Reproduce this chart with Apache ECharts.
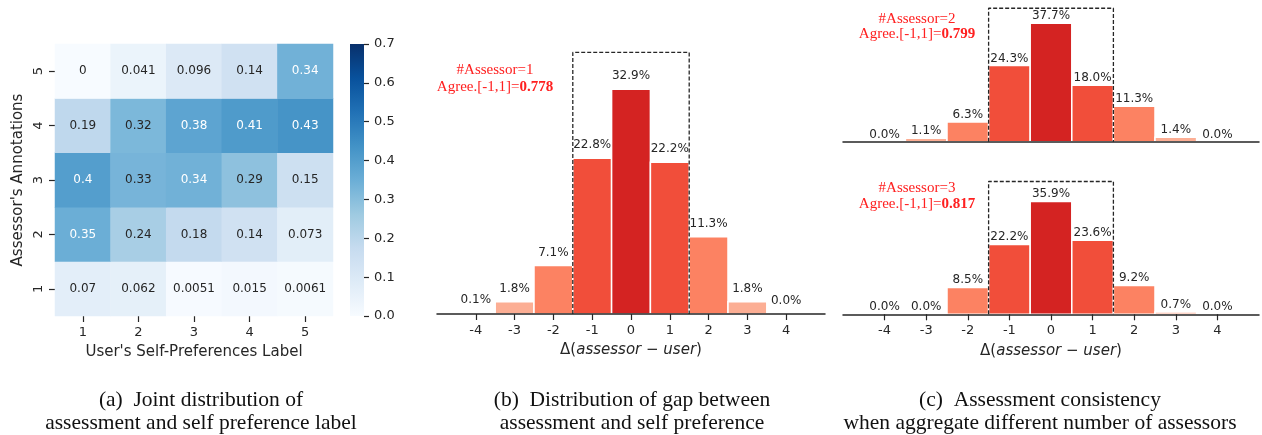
<!DOCTYPE html>
<html>
<head>
<meta charset="utf-8">
<script src="https://cdn.jsdelivr.net/npm/echarts@6/dist/echarts.min.js"></script>
<style>
  html, body { margin: 0; padding: 0; background: #fff; }
  #chart { width: 1262px; height: 435px; }
</style>
</head>
<body>
<div id="chart"></div>
<script>
// (a) joint distribution: one row per assessor annotation (1..5), one column per user label (1..5)
const userLabels = ['1', '2', '3', '4', '5'];
const assessorLabels = ['1', '2', '3', '4', '5'];
const jointDist = [
  [0.07, 0.062, 0.0051, 0.015, 0.0061], // assessor = 1
  [0.35, 0.24, 0.18, 0.14, 0.073],      // assessor = 2
  [0.4, 0.33, 0.34, 0.29, 0.15],        // assessor = 3
  [0.19, 0.32, 0.38, 0.41, 0.43],       // assessor = 4
  [0, 0.041, 0.096, 0.14, 0.34]         // assessor = 5
];
const colorbarMax = 0.7;
const colorbarStep = 0.1;

// (b), (c) share of gaps (assessor - user), in percent
const gapValues = [-4, -3, -2, -1, 0, 1, 2, 3, 4];
const gapOneAssessor = [0.1, 1.8, 7.1, 22.8, 32.9, 22.2, 11.3, 1.8, 0.0];
const gapTwoAssessors = [0.0, 1.1, 6.3, 24.3, 37.7, 18.0, 11.3, 1.4, 0.0];
const gapThreeAssessors = [0.0, 0.0, 8.5, 22.2, 35.9, 23.6, 9.2, 0.7, 0.0];
const assessorCounts = [1, 2, 3];
const agreementScores = ['0.778', '0.799', '0.817'];
const agreeWindow = [-1.5, 1.5];
const windowTops = [38.3, 42.5, 42.3];

// styling
const INK = '#262626';
const FONT = '"DejaVu Sans", sans-serif';
const SERIF = '"Liberation Serif", "Times New Roman", serif';
const BLUES = ['#f7fbff', '#deebf7', '#c6dbef', '#9ecae1', '#6baed6', '#4292c6', '#2171b5', '#08519c', '#08306b'];
const REDS_BY_DISTANCE = ['#d42322', '#f14e3a', '#fc8262', '#fcae94', '#fdd3c1'];

function twoSig(v) {
  return v === 0 ? '0' : String(Number(v.toPrecision(2)));
}

const heatData = [];
jointDist.forEach((row, r) => {
  row.forEach((v, c) => {
    heatData.push({
      value: [c, r, v],
      label: { color: v > 0.335 ? '#ffffff' : INK }
    });
  });
});

function histRender(labelGap) {
  return function (params, api) {
    const x = api.value(0);
    const v = api.value(1);
    const lo = api.coord([x - 0.5, 0]);
    const hi = api.coord([x + 0.5, v]);
    const cx = (lo[0] + hi[0]) / 2;
    return {
      type: 'group',
      children: [
        {
          type: 'rect',
          shape: { x: lo[0], y: hi[1], width: hi[0] - lo[0], height: lo[1] - hi[1] },
          style: { fill: REDS_BY_DISTANCE[Math.min(Math.abs(x), 4)], stroke: '#ffffff', lineWidth: 1.5 }
        },
        {
          type: 'text',
          style: {
            x: cx, y: hi[1] - labelGap,
            text: v.toFixed(1) + '%',
            align: 'center', verticalAlign: 'bottom',
            fill: INK, font: '12px ' + FONT
          }
        }
      ]
    };
  };
}

function histSeries(idx, values, labelGap) {
  return {
    type: 'custom',
    xAxisIndex: idx, yAxisIndex: idx,
    renderItem: histRender(labelGap),
    encode: { x: 0, y: 1 },
    data: gapValues.map((g, i) => [g, values[i]]),
    silent: true,
    z: 2
  };
}

function windowSeries(idx, top) {
  return {
    type: 'line',
    xAxisIndex: idx, yAxisIndex: idx,
    data: [[agreeWindow[0], 0], [agreeWindow[0], top], [agreeWindow[1], top], [agreeWindow[1], 0]],
    symbol: 'none',
    lineStyle: { color: INK, width: 1.3, type: [4, 2] },
    silent: true,
    animation: false,
    z: 4
  };
}

function gapXAxis(idx, withLabels) {
  return {
    gridIndex: idx, type: 'value', min: -5, max: 5, interval: 1,
    z: 5,
    splitLine: { show: false },
    axisLine: { show: true, onZero: false, lineStyle: { color: INK, width: 1.5 } },
    axisTick: withLabels
      ? { show: true, customValues: gapValues, length: 6, lineStyle: { color: INK, width: 1.2 } }
      : { show: false },
    axisLabel: withLabels
      ? { show: true, customValues: gapValues, formatter: v => String(v), color: INK, fontSize: 13, fontFamily: FONT, margin: 10 }
      : { show: false },
    name: withLabels ? 'Δ({i|assessor} − {i|user})' : '',
    nameLocation: 'middle',
    nameGap: 29,
    nameTextStyle: {
      color: INK, fontSize: 15, fontFamily: FONT,
      rich: { i: { fontStyle: 'italic', color: INK, fontSize: 15, fontFamily: FONT } }
    }
  };
}

function gapYAxis(idx, max) {
  return { gridIndex: idx, type: 'value', min: 0, max: max, show: false };
}

function assessorNote(cx, y1, y2, n, score) {
  return [
    {
      type: 'text', silent: true,
      style: {
        x: cx, y: y1, text: '#Assessor=' + n, align: 'center', verticalAlign: 'middle',
        fill: '#ff2020', font: '15px ' + SERIF
      }
    },
    {
      type: 'text', silent: true,
      style: {
        x: cx, y: y2, text: '{n|Agree.[-1,1]=}{b|' + score + '}', align: 'center', verticalAlign: 'middle',
        fill: '#ff2020', font: '15px ' + SERIF,
        rich: {
          n: { fill: '#ff2020', fontSize: 15, fontFamily: SERIF },
          b: { fill: '#ff2020', fontSize: 15, fontFamily: SERIF, fontWeight: 'bold' }
        }
      }
    }
  ];
}

function caption(cx, lines) {
  return lines.map((t, i) => ({
    type: 'text', silent: true,
    style: {
      x: cx, y: 400 + i * 23, text: t, align: 'center', verticalAlign: 'middle',
      fill: '#111111', font: '21.5px ' + SERIF
    }
  }));
}

const chart = echarts.init(document.getElementById('chart'), null, { renderer: 'canvas' });

chart.setOption({
  animation: false,
  backgroundColor: '#ffffff',
  textStyle: { fontFamily: FONT, color: INK },
  grid: [
    { left: 55, top: 44, width: 278, height: 272 },   // heatmap
    { left: 350, top: 44, width: 14, height: 272 },   // colorbar
    { left: 437, top: 40.8, width: 388, height: 273.2 }, // (b)
    { left: 843, top: 0.4, width: 416, height: 141.3 },  // (c) two assessors
    { left: 843, top: 173, width: 416, height: 141.3 }   // (c) three assessors
  ],
  visualMap: {
    type: 'continuous', min: 0, max: colorbarMax, show: false, seriesIndex: 0,
    inRange: { color: BLUES }
  },
  xAxis: [
    {
      gridIndex: 0, type: 'category', data: userLabels,
      axisLine: { show: false },
      axisTick: { show: true, alignWithLabel: true, length: 6, lineStyle: { color: INK, width: 1.2 } },
      axisLabel: { color: INK, fontSize: 13, fontFamily: FONT, margin: 10 },
      splitLine: { show: false },
      name: "User's Self-Preferences Label", nameLocation: 'middle', nameGap: 29,
      nameTextStyle: { color: INK, fontSize: 15, fontFamily: FONT }
    },
    { gridIndex: 1, type: 'category', data: ['bar'], show: false },
    gapXAxis(2, true),
    gapXAxis(3, false),
    gapXAxis(4, true)
  ],
  yAxis: [
    {
      gridIndex: 0, type: 'category', data: assessorLabels,
      axisLine: { show: false },
      axisTick: { show: true, alignWithLabel: true, length: 6, lineStyle: { color: INK, width: 1.2 } },
      axisLabel: { color: INK, fontSize: 13, fontFamily: FONT, rotate: 90, margin: 10 },
      splitLine: { show: false },
      name: "Assessor's Annotations", nameLocation: 'middle', nameGap: 29, nameRotate: 90,
      nameTextStyle: { color: INK, fontSize: 15, fontFamily: FONT }
    },
    {
      gridIndex: 1, type: 'value', min: 0, max: colorbarMax, interval: colorbarStep, position: 'right',
      axisLine: { show: false },
      axisTick: { show: true, length: 5, lineStyle: { color: INK, width: 1.2 } },
      axisLabel: { color: INK, fontSize: 13, fontFamily: FONT, margin: 10, formatter: v => v.toFixed(1) },
      splitLine: { show: false }
    },
    gapYAxis(2, 40),
    gapYAxis(3, 45),
    gapYAxis(4, 45)
  ],
  series: [
    {
      type: 'heatmap', xAxisIndex: 0, yAxisIndex: 0,
      data: heatData,
      label: { show: true, fontSize: 12, fontFamily: FONT, formatter: p => twoSig(p.value[2]) },
      itemStyle: { borderWidth: 0 },
      emphasis: { disabled: true },
      silent: true
    },
    {
      type: 'bar', xAxisIndex: 1, yAxisIndex: 1,
      data: [colorbarMax], barWidth: '100%', silent: true,
      itemStyle: {
        color: {
          type: 'linear', x: 0, y: 1, x2: 0, y2: 0,
          colorStops: BLUES.map((c, i) => ({ offset: i / (BLUES.length - 1), color: c }))
        }
      }
    },
    histSeries(2, gapOneAssessor, 7),
    windowSeries(2, windowTops[0]),
    histSeries(3, gapTwoAssessors, 1),
    windowSeries(3, windowTops[1]),
    histSeries(4, gapThreeAssessors, 1.5),
    windowSeries(4, windowTops[2])
  ],
  graphic: [
    ...assessorNote(495, 70, 87, assessorCounts[0], agreementScores[0]),
    ...assessorNote(917, 19, 34.5, assessorCounts[1], agreementScores[1]),
    ...assessorNote(917, 188.5, 204.5, assessorCounts[2], agreementScores[2]),
    ...caption(201, ['(a)  Joint distribution of', 'assessment and self preference label']),
    ...caption(632, ['(b)  Distribution of gap between', 'assessment and self preference']),
    ...caption(1040, ['(c)  Assessment consistency', 'when aggregate different number of assessors'])
  ]
});
</script>
</body>
</html>
